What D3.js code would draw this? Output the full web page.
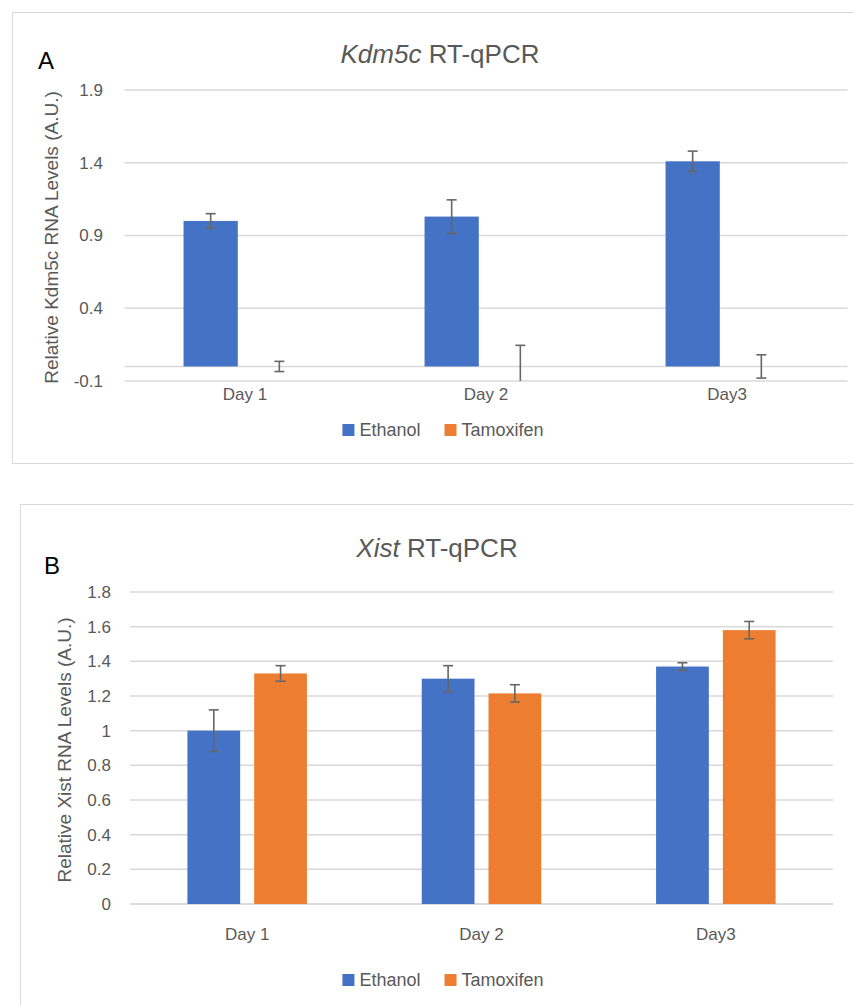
<!DOCTYPE html>
<html>
<head>
<meta charset="utf-8">
<script src="https://cdn.jsdelivr.net/npm/d3@7"></script>
<style>
  body { margin: 0; background: #fff; }
  svg text { font-family: "Liberation Sans", Arial, sans-serif; fill: #595959; }
</style>
</head>
<body>
<div id="main"></div>
<script>
// categories and series
var days = ["Day 1", "Day 2", "Day3"];
var series = ["Ethanol", "Tamoxifen"];

// panel A : Kdm5c
var kdm5cEthanol = [1.00, 1.03, 1.41];
var kdm5cEthanolErr = [0.05, 0.115, 0.07];
var kdm5cTamoxifen = [0, 0, 0];
var kdm5cTamoxifenErr = [0.035, 0.145, 0.08];
var kdm5cTicks = [-0.1, 0.4, 0.9, 1.4, 1.9];

// panel B : Xist
var xistEthanol = [1.00, 1.30, 1.37];
var xistEthanolErr = [0.12, 0.075, 0.022];
var xistTamoxifen = [1.33, 1.215, 1.58];
var xistTamoxifenErr = [0.045, 0.05, 0.05];
var xistTicks = [0, 0.2, 0.4, 0.6, 0.8, 1, 1.2, 1.4, 1.6, 1.8];

var ctx = {
    w: 854,
    h: 1005,
    colors: {"Ethanol": "#4472C4", "Tamoxifen": "#ED7D31"},
    grid: "#d9d9d9",
    text: "#595959",
    err: "#666666",
};

var panels = [
    {
        letter: "A", gene: "Kdm5c", ytitle: "Relative Kdm5c RNA Levels (A.U.)",
        frame: [12, 12, 880, 451],
        x: [124.5, 847.5], y: [381, 90], domain: [-0.1, 1.9], ticks: kdm5cTicks,
        vals: [kdm5cEthanol, kdm5cTamoxifen], errs: [kdm5cEthanolErr, kdm5cTamoxifenErr],
        titleX: 440, titleY: 63, letterX: 38, letterY: 69,
        tickX: 103, ytitleX: 51, dayY: 400, legendY: 430
    },
    {
        letter: "B", gene: "Xist", ytitle: "Relative Xist RNA Levels (A.U.)",
        frame: [20, 504, 880, 540],
        x: [130, 833], y: [904, 592], domain: [0, 1.8], ticks: xistTicks,
        vals: [xistEthanol, xistTamoxifen], errs: [xistEthanolErr, xistTamoxifenErr],
        titleX: 437, titleY: 557, letterX: 44, letterY: 574,
        tickX: 111, ytitleX: 64, dayY: 940, legendY: 980
    }
];

var drawPanel = function(svg, p){
    var g = svg.append("g");

    // chart frame
    g.append("rect")
     .attr("x", p.frame[0] + 0.5).attr("y", p.frame[1] + 0.5)
     .attr("width", p.frame[2]).attr("height", p.frame[3])
     .style("fill", "#fff").style("stroke", ctx.grid);

    var x0 = d3.scaleBand().domain(days).range(p.x).padding(0);
    var x1 = d3.scaleBand().domain(series).range([0, x0.bandwidth()])
               .paddingInner(0.21).paddingOuter(0.86);
    var y = d3.scaleLinear().domain(p.domain).range(p.y);

    // gridlines
    g.selectAll("line.grid").data(p.ticks).enter().append("line")
     .attr("x1", p.x[0]).attr("x2", p.x[1])
     .attr("y1", function(d){ return y(d); }).attr("y2", function(d){ return y(d); })
     .style("stroke", ctx.grid).style("stroke-width", 1.5);
    // horizontal axis at zero
    g.append("line")
     .attr("x1", p.x[0]).attr("x2", p.x[1]).attr("y1", y(0)).attr("y2", y(0))
     .style("stroke", ctx.grid).style("stroke-width", 1.5);

    // tick labels
    g.selectAll("text.tick").data(p.ticks).enter().append("text")
     .attr("x", p.tickX).attr("y", function(d){ return y(d); })
     .attr("dy", "0.35em").attr("text-anchor", "end")
     .style("font-size", "17px")
     .text(function(d){ return String(+d.toFixed(1)); });

    // bars
    var rows = [];
    days.forEach(function(day, i){
        series.forEach(function(s, j){
            rows.push({day: day, s: s, v: p.vals[j][i], e: p.errs[j][i]});
        });
    });
    g.selectAll("rect.bar").data(rows.filter(function(d){ return d.v !== 0; }))
     .enter().append("rect")
     .attr("x", function(d){ return x0(d.day) + x1(d.s); })
     .attr("width", x1.bandwidth())
     .attr("y", function(d){ return y(Math.max(0, d.v)); })
     .attr("height", function(d){ return Math.abs(y(d.v) - y(0)); })
     .style("fill", function(d){ return ctx.colors[d.s]; });

    // error bars, clipped to the plot area
    var lo = p.domain[0], hi = p.domain[1], cap = 5;
    var eb = g.selectAll("g.err").data(rows).enter().append("g")
              .attr("transform", function(d){ return "translate(" + (x0(d.day) + x1(d.s) + x1.bandwidth() / 2) + ",0)"; })
              .style("stroke", ctx.err).style("stroke-width", 1.6);
    eb.append("line")
      .attr("y1", function(d){ return y(Math.min(hi, d.v + d.e)); })
      .attr("y2", function(d){ return y(Math.max(lo, d.v - d.e)); });
    eb.filter(function(d){ return d.v + d.e <= hi; }).append("line")
      .attr("x1", -cap).attr("x2", cap)
      .attr("y1", function(d){ return y(d.v + d.e); }).attr("y2", function(d){ return y(d.v + d.e); });
    eb.filter(function(d){ return d.v - d.e >= lo; }).append("line")
      .attr("x1", -cap).attr("x2", cap)
      .attr("y1", function(d){ return y(d.v - d.e); }).attr("y2", function(d){ return y(d.v - d.e); });

    // category labels
    g.selectAll("text.day").data(days).enter().append("text")
     .attr("x", function(d){ return x0(d) + x0.bandwidth() / 2; })
     .attr("y", p.dayY).attr("text-anchor", "middle")
     .style("font-size", "17px")
     .text(function(d){ return d; });

    // title with italic gene name
    var t = g.append("text").attr("x", p.titleX).attr("y", p.titleY)
             .attr("text-anchor", "middle").style("font-size", "26px");
    t.append("tspan").style("font-style", "italic").text(p.gene);
    t.append("tspan").text(" RT-qPCR");

    // panel letter
    g.append("text").attr("x", p.letterX).attr("y", p.letterY)
     .style("font-size", "24px").style("fill", "#000").text(p.letter);

    // y axis title
    g.append("text")
     .attr("transform", "translate(" + p.ytitleX + "," + ((p.y[0] + p.y[1]) / 2 + 2) + ") rotate(-90)")
     .attr("text-anchor", "middle").attr("dy", "0.35em")
     .style("font-size", "19px")
     .text(p.ytitle);

    // legend, centred under the chart
    var leg = g.append("g");
    var xo = 0;
    series.forEach(function(s){
        leg.append("rect").attr("x", xo).attr("y", -6).attr("width", 12).attr("height", 12)
           .style("fill", ctx.colors[s]);
        var tx = leg.append("text").attr("x", xo + 17).attr("dy", "0.35em")
                    .style("font-size", "18px").text(s);
        xo += 17 + tx.node().getComputedTextLength() + 24;
    });
    var lw = xo - 24;
    leg.attr("transform", "translate(" + (443 - lw / 2) + "," + p.legendY + ")");
};

var createViz = function(){
    var svgEl = d3.select("#main").append("svg")
                  .attr("width", ctx.w).attr("height", ctx.h);
    panels.forEach(function(p){ drawPanel(svgEl, p); });
};

createViz();
</script>
</body>
</html>
